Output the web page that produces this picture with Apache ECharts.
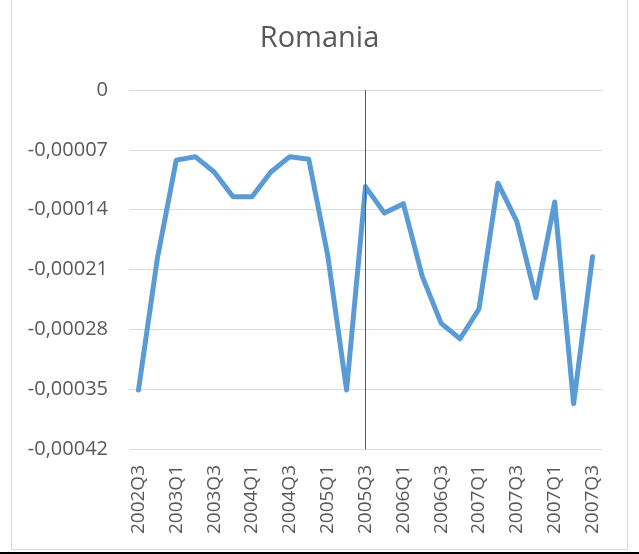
<!DOCTYPE html>
<html>
<head>
<meta charset="utf-8">
<script src="https://cdn.jsdelivr.net/npm/echarts@6/dist/echarts.min.js"></script>
<style>
  html, body { margin: 0; padding: 0; background: #fff; }
  #wrap { position: relative; width: 639px; height: 554px; overflow: hidden; }
  #chart { position: absolute; left: 0; top: 0; width: 639px; height: 554px; }
  .frame { position: absolute; left: 11px; top: -2px; width: 617px; height: 552px; border: 1px solid #d9d9d9; box-sizing: border-box; pointer-events: none; }
  .bottomline { position: absolute; left: 0; top: 552px; width: 639px; height: 2px; background: #000; }
</style>
</head>
<body>
<div id="wrap">
  <div id="chart"></div>
  <div class="frame"></div>
  <div class="bottomline"></div>
</div>
<script>
// quarters as labelled in the source sheet (tail repeats 2007 quarters)
const quarters = [
  '2002Q3', '2002Q4', '2003Q1', '2003Q2', '2003Q3', '2003Q4', '2004Q1', '2004Q2',
  '2004Q3', '2004Q4', '2005Q1', '2005Q2', '2005Q3', '2005Q4', '2006Q1', '2006Q2',
  '2006Q3', '2006Q4', '2007Q1', '2007Q2', '2007Q3', '2006Q4', '2007Q1', '2007Q2', '2007Q3'
]

const romania = [
  -0.000351, -0.000197, -0.000082, -0.000078, -0.000096, -0.000125, -0.000125, -0.000096,
  -0.000078, -0.000081, -0.000193, -0.000351, -0.000113, -0.000144, -0.000133, -0.000218,
  -0.000273, -0.000291, -0.000256, -0.000109, -0.000154, -0.000243, -0.000131, -0.000367, -0.000195
]

const markQuarter = 12 // 2005Q3

const chart = echarts.init(document.getElementById('chart'))

const option = {
  backgroundColor: '#fff',
  animation: false,
  title: {
    text: 'Romania',
    left: 'center',
    top: 19,
    textStyle: { fontFamily: 'Open Sans', fontSize: 29, fontWeight: 'normal', color: '#595959' }
  },
  grid: { left: 129, right: 37, top: 90, bottom: 105 },
  xAxis: {
    type: 'category',
    data: quarters,
    boundaryGap: true,
    axisTick: { show: false },
    axisLine: { lineStyle: { color: '#d9d9d9', width: 1 } },
    axisLabel: {
      interval: 1,
      rotate: 90,
      margin: 16,
      fontFamily: 'Open Sans',
      fontSize: 19,
      color: '#595959'
    }
  },
  yAxis: {
    type: 'value',
    min: -0.00042,
    max: 0,
    interval: 0.00007,
    axisLine: { show: false },
    axisTick: { show: false },
    splitLine: { lineStyle: { color: '#d9d9d9', width: 1 } },
    axisLabel: {
      margin: 21,
      fontFamily: 'Open Sans',
      fontSize: 20,
      color: '#595959',
      formatter: v => Math.abs(v) < 1e-9 ? '0' : v.toFixed(5).replace('.', ',')
    }
  },
  series: [
    {
      name: 'Romania',
      type: 'line',
      data: romania,
      symbol: 'none',
      lineStyle: { color: '#5b9bd5', width: 5, cap: 'round', join: 'round' },
      markLine: {
        silent: true,
        symbol: ['none', 'none'],
        label: { show: false },
        lineStyle: { color: '#595959', width: 1, type: 'solid' },
        data: [{ xAxis: markQuarter }]
      }
    }
  ]
}

chart.setOption(option)
</script>
</body>
</html>
